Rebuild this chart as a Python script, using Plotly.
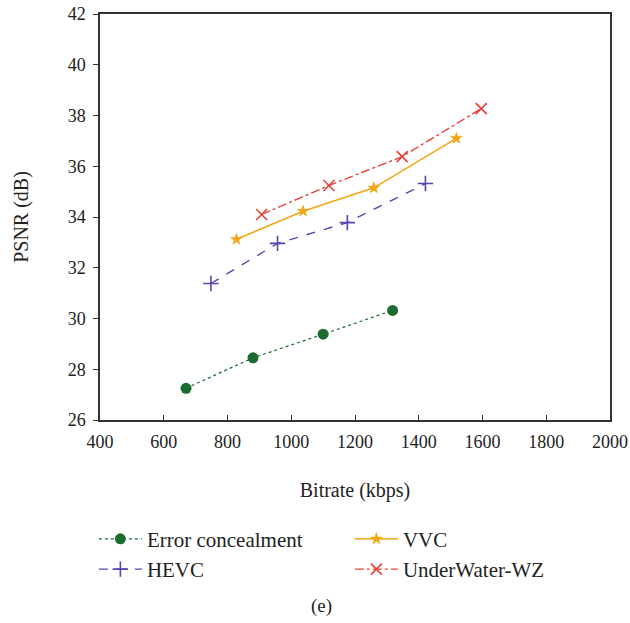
import plotly.graph_objects as go

ec_x = [670, 880, 1100, 1318]
ec_y = [27.25, 28.45, 29.38, 30.32]
hevc_x = [748, 957, 1176, 1421]
hevc_y = [31.38, 32.96, 33.78, 35.32]
vvc_x = [828, 1037, 1259, 1518]
vvc_y = [33.12, 34.23, 35.15, 37.1]
uw_x = [907, 1118, 1348, 1596]
uw_y = [34.1, 35.24, 36.38, 38.27]

font = "Liberation Serif, Times New Roman, serif"

fig = go.Figure()
fig.add_trace(go.Scatter(x=ec_x, y=ec_y, name="Error concealment", mode="lines+markers",
                         line=dict(color="#1c6b30", width=1.2, dash="dot"),
                         marker=dict(symbol="circle", size=11, color="#1c6b30")))
fig.add_trace(go.Scatter(x=vvc_x, y=vvc_y, name="VVC", mode="lines+markers",
                         line=dict(color="#f5a614", width=1.6),
                         marker=dict(symbol="star", size=10, color="#f5a614")))
fig.add_trace(go.Scatter(x=hevc_x, y=hevc_y, name="HEVC", mode="lines+markers",
                         line=dict(color="#5546b0", width=1.4, dash="dash"),
                         marker=dict(symbol="cross-thin", size=11, line=dict(color="#5546b0", width=1.6))))
fig.add_trace(go.Scatter(x=uw_x, y=uw_y, name="UnderWater-WZ", mode="lines+markers",
                         line=dict(color="#e8413a", width=1.4, dash="dashdot"),
                         marker=dict(symbol="x-thin", size=11, line=dict(color="#e8413a", width=1.6))))

fig.update_layout(
    width=630, height=623,
    margin=dict(l=100, r=20, t=14, b=203, autoexpand=False),
    plot_bgcolor="white", paper_bgcolor="white",
    font=dict(family=font, size=18, color="#222"),
    showlegend=True,
    legend=dict(orientation="h", x=-0.012, xanchor="left", y=-0.243, yanchor="top",
                entrywidth=198, entrywidthmode="pixels",
                font=dict(family=font, size=21, color="#222"),
                tracegroupgap=0, itemwidth=43),
    annotations=[dict(text="(e)", x=0.435, y=-0.489, xref="paper", yref="paper",
                      showarrow=False, font=dict(family=font, size=19, color="#222"))],
)
fig.update_xaxes(range=[400, 2000], dtick=200, tick0=400,
                 showline=True, linecolor="#333", linewidth=1.5, mirror=True,
                 ticks="inside", ticklen=5, tickcolor="#333", showgrid=False, zeroline=False,
                 ticklabelstandoff=5, ticklabeloverflow="allow",
                 title=dict(text="Bitrate (kbps)", standoff=32, font=dict(size=20)),
                 tickfont=dict(size=18))
fig.update_yaxes(range=[26, 42], dtick=2, tick0=26,
                 showline=True, linecolor="#333", linewidth=1.5, mirror=True,
                 ticks="outside", ticklen=5, tickcolor="#333", showgrid=False, zeroline=False,
                 ticklabelstandoff=4, ticklabeloverflow="allow",
                 title=dict(text="PSNR (dB)", standoff=34, font=dict(size=20)),
                 tickfont=dict(size=18))

fig.write_html("out.html", config={"displayModeBar": False},
               post_script="document.body.style.margin='0';document.body.style.overflow='hidden';")
